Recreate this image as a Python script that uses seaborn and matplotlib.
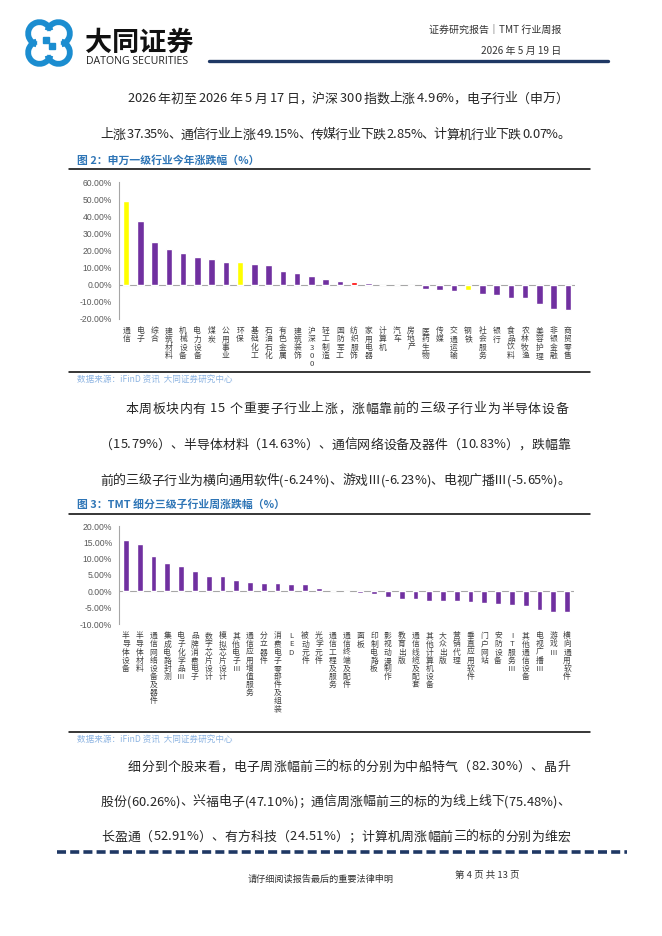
import matplotlib
matplotlib.use('Agg')
import matplotlib.pyplot as plt
import seaborn as sns
from matplotlib.lines import Line2D
from matplotlib.patches import Arc, Rectangle
from matplotlib.font_manager import FontProperties
from matplotlib.ticker import FuncFormatter

# 图2 申万一级行业今年涨跌幅（%）
sw_names = ['通信', '电子', '综合', '建筑材料', '机械设备', '电力设备', '煤炭', '公用事业',
            '环保', '基础化工', '石油石化', '有色金属', '建筑装饰', '沪深300', '轻工制造',
            '国防军工', '纺织服饰', '家用电器', '计算机', '汽车', '房地产', '医药生物',
            '传媒', '交通运输', '钢铁', '社会服务', '银行', '食品饮料', '农林牧渔',
            '美容护理', '非银金融', '商贸零售']
sw_values = [49.15, 37.35, 25.0, 21.0, 18.5, 16.2, 15.2, 13.4, 13.0, 12.0, 11.8, 7.8,
             6.8, 4.96, 3.6, 2.4, 1.6, 0.8, -0.07, -0.3, -0.8, -2.3, -2.85, -3.6,
             -3.2, -5.2, -6.0, -7.6, -8.0, -11.2, -14.2, -15.0]
sw_highlight = {'通信': 'yellow', '环保': 'yellow', '钢铁': 'yellow', '纺织服饰': 'red'}

# 图3 TMT 细分三级子行业周涨跌幅（%）
tmt_names = ['半导体设备', '半导体材料', '通信网络设备及器件', '集成电路封测', '电子化学品Ⅲ',
             '品牌消费电子', '数字芯片设计', '模拟芯片设计', '其他电子Ⅲ', '通信应用增值服务',
             '分立器件', '消费电子零部件及组装', 'LED', '被动元件', '光学元件',
             '通信工程及服务', '通信终端及配件', '面板', '印制电路板', '影视动漫制作',
             '教育出版', '通信线缆及配套', '其他计算机设备', '大众出版', '营销代理',
             '垂直应用软件', '门户网站', '安防设备', 'IT服务Ⅲ', '其他通信设备',
             '电视广播Ⅲ', '游戏Ⅲ', '横向通用软件']
tmt_values = [15.79, 14.63, 10.83, 8.8, 7.9, 6.3, 4.8, 4.7, 3.4, 2.9, 2.6, 2.4, 2.2,
              2.1, 0.9, -0.05, -0.2, -0.4, -0.8, -1.6, -2.4, -2.5, -2.9, -3.0, -3.1,
              -3.4, -3.6, -3.9, -4.1, -4.6, -5.65, -6.23, -6.24]

PURPLE = '#7030A0'
CJK = ['Noto Sans CJK SC', 'DejaVu Sans']

sns.set_style('white')
plt.rcParams['font.family'] = CJK
plt.rcParams['lines.scale_dashes'] = False

W, H = 662, 936
fig = plt.figure(figsize=(W / 100, H / 100), dpi=100)
renderer = fig.canvas.get_renderer()


def fx(x):
    return x / W


def fy(y):
    return 1 - y / H


def hline(x0, x1, y, color='black', lw=1.0, **kw):
    fig.add_artist(Line2D([fx(x0), fx(x1)], [fy(y), fy(y)], color=color, lw=lw, **kw))


def justify(text, x0, x1, y, size=9.3, color='#262626'):
    prop = FontProperties(family=CJK, size=size)
    widths = [renderer.get_text_width_height_descent(c, prop, ismath=False)[0] for c in text]
    gap = (x1 - x0 - sum(widths)) / (len(text) - 1)
    x = x0
    for c, w in zip(text, widths):
        fig.text(fx(x), fy(y), c, fontproperties=prop, color=color, va='center', ha='left')
        x += w + gap


def stack(name):
    return '\n'.join(name)


def bar_chart(rect, names, values, colors, ylim, step, width):
    ax = fig.add_axes(rect)
    sns.barplot(x=names, y=values, hue=names, palette=colors, width=width,
                saturation=1, legend=False, ax=ax)
    ax.set_ylim(*ylim)
    ax.set_xlim(-0.5, len(names) - 0.5)
    ax.set_yticks(range(ylim[0], ylim[1] + 1, step))
    ax.yaxis.set_major_formatter(FuncFormatter(lambda v, _: f'{v:.2f}%'))
    ax.set_xticks(range(len(names)))
    ax.set_xticklabels([stack(n) for n in names], fontsize=5.6, color='#404040',
                       linespacing=1.02, va='top')
    for lab in ax.get_yticklabels():
        lab.set_fontfamily(['Liberation Sans', 'DejaVu Sans'])
        lab.set_fontsize(6.2)
        lab.set_color('#595959')
    ax.tick_params(axis='both', length=0)
    ax.tick_params(axis='x', pad=6)
    ax.tick_params(axis='y', pad=5)
    for s in ['top', 'right', 'bottom']:
        ax.spines[s].set_visible(False)
    ax.spines['left'].set_color('#A6A6A6')
    ax.spines['left'].set_linewidth(0.8)
    ax.axhline(0, color='#A6A6A6', lw=0.8, zorder=0)
    ax.set_facecolor('white')
    ax.grid(False)
    return ax


# ---- header ----
logo = fig.add_axes([fx(24), fy(68), 50 / W, 50 / H])
logo.set_xlim(-1.05, 1.05)
logo.set_ylim(-1.05, 1.05)
logo.set_aspect('equal')
logo.axis('off')
blue = '#1B8DD0'
for a, (cx, cy) in zip([45, 135, 225, 315], [(0.4, 0.4), (-0.4, 0.4), (-0.4, -0.4), (0.4, -0.4)]):
    logo.add_patch(Arc((cx, cy), 0.95, 0.95, theta1=a - 120, theta2=a + 120,
                       color=blue, lw=4.2))
for cx, cy in [(-0.13, 0.13), (0.13, -0.13)]:
    logo.add_patch(Rectangle((cx - 0.11, cy - 0.11), 0.22, 0.22, color=blue))

fig.text(fx(85), fy(43), '大同证券', fontsize=19.5, fontweight='bold', color='#111111',
         va='center', ha='left')
fig.text(fx(86), fy(61), 'DATONG SECURITIES', fontsize=7.6, color='#222222',
         family=['Open Sans', 'DejaVu Sans'], va='center', ha='left')

fig.text(fx(561), fy(31), '证券研究报告｜TMT 行业周报', fontsize=7.2, color='#333333',
         va='center', ha='right')
fig.text(fx(561), fy(51), '2026 年 5 月 19 日', fontsize=7.2, color='#333333',
         va='center', ha='right')
hline(209, 608, 61, color='#1F3864', lw=2.4)

# ---- paragraph 1 ----
justify('2026 年初至 2026 年 5 月 17 日，沪深 300 指数上涨 4.96%，电子行业（申万）', 127, 568, 99)
justify('上涨 37.35%、通信行业上涨 49.15%、传媒行业下跌 2.85%、计算机行业下跌 0.07%。', 100, 570, 135)

# ---- figure 2 ----
fig.text(fx(77), fy(161), '图 2：申万一级行业今年涨跌幅（%）', fontsize=7.8, fontweight='bold',
         color='#2E75B6', va='center', ha='left')
hline(69, 590, 169, lw=1.1)
sw_colors = [sw_highlight.get(n, PURPLE) for n in sw_names]
bar_chart([fx(119), fy(319), (575 - 119) / W, (319 - 182) / H],
          sw_names, sw_values, sw_colors, (-20, 60), 10, 0.45)
hline(69, 590, 372, lw=1.1)
fig.text(fx(77), fy(379), '数据来源：iFinD 资讯  大同证券研究中心', fontsize=6.2, style='italic',
         color='#8DB4E2', va='center', ha='left')

# ---- paragraph 2 ----
justify('本周板块内有 15 个重要子行业上涨，涨幅靠前的三级子行业为半导体设备', 125, 568, 409)
justify('（15.79%）、半导体材料（14.63%）、通信网络设备及器件（10.83%），跌幅靠', 100, 570, 445)
justify('前的三级子行业为横向通用软件(-6.24%)、游戏Ⅲ(-6.23%)、电视广播Ⅲ(-5.65%)。', 100, 570, 481)

# ---- figure 3 ----
fig.text(fx(77), fy(504), '图 3：TMT 细分三级子行业周涨跌幅（%）', fontsize=7.8, fontweight='bold',
         color='#2E75B6', va='center', ha='left')
hline(69, 590, 514, lw=1.1)
bar_chart([fx(119), fy(624), (574 - 119) / W, (624 - 526) / H],
          tmt_names, tmt_values, [PURPLE] * len(tmt_names), (-10, 20), 5, 0.42)
hline(69, 590, 732, lw=1.1)
fig.text(fx(77), fy(739), '数据来源：iFinD 资讯  大同证券研究中心', fontsize=6.2, style='italic',
         color='#8DB4E2', va='center', ha='left')

# ---- paragraph 3 ----
justify('细分到个股来看，电子周涨幅前三的标的分别为中船特气（82.30%）、晶升', 128, 570, 767)
justify('股份(60.26%)、兴福电子(47.10%)；通信周涨幅前三的标的为线上线下(75.48%)、', 101, 570, 802)
justify('长盈通（52.91%）、有方科技（24.51%）；计算机周涨幅前三的标的分别为维宏', 101, 570, 837)

# ---- footer ----
hline(57, 627, 852, color='#1F3864', lw=2.6, linestyle=(0, (6.5, 3.0)))
fig.text(fx(248), fy(879), '请仔细阅读报告最后的重要法律申明', fontsize=6.6, color='#333333',
         va='center', ha='left')
fig.text(fx(455), fy(875), '第 4 页 共 13 页', fontsize=6.8, color='#333333',
         va='center', ha='left')

fig.savefig('out.png', dpi=100, facecolor='white')
